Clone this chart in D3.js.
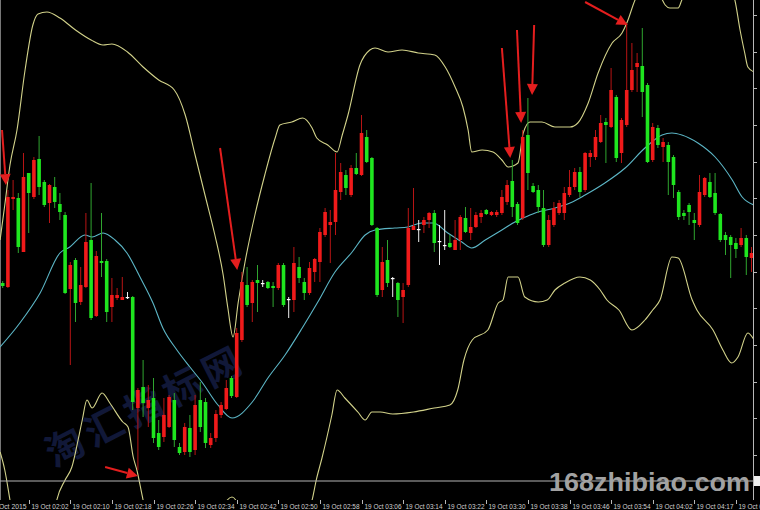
<!DOCTYPE html>
<html><head><meta charset="utf-8">
<script src="https://cdn.jsdelivr.net/npm/d3@7/dist/d3.min.js"></script>
<style>html,body{margin:0;padding:0;background:#000;overflow:hidden}</style>
</head><body><svg id="c" width="760" height="510"></svg>
<script>
// ---- data (price in points) ----
const opens  = [217,213,301,302,248,327,303,341,318,297,313,296,285,211,240,198,213,260,184,239,239,193,202,200,203,203,92,113,92,102,67,63,73,100,53,48,72,50,100,98,55,62,85,91,122,103,160,215,197,220,217,218,214,212,235,201,200,233,218,207,228,238,265,275,278,308,325,305,332,325,363,342,272,210,240,222,217,203,215,270,271,275,280,287,259,255,257,250,260,282,267,273,283,290,285,285,287,298,319,296,282,365,314,310,292,255,275,287,287,305,313,328,310,343,343,358,378,373,403,347,375,410,433,434,415,340,372,353,355,343,308,287,295,280,275,305,318,307,286,265,263,257,255,262,242];
const highs  = [219,310,320,307,347,327,343,364,320,316,323,307,288,238,242,233,287,317,249,287,241,222,212,223,208,204,112,140,115,122,80,102,105,107,57,77,85,105,118,102,67,90,98,120,124,172,228,233,220,235,220,219,218,237,237,203,253,243,222,238,242,272,292,290,347,337,330,335,347,385,370,343,273,253,260,223,218,217,292,312,280,283,288,290,275,290,265,280,285,293,292,288,290,291,289,290,310,320,340,298,370,402,317,315,310,285,298,300,313,330,332,333,348,350,370,385,382,432,405,382,477,457,447,472,417,377,375,362,358,345,310,290,297,287,325,323,327,327,287,268,265,262,272,265,253];
const lows   = [212,212,290,247,248,267,301,305,293,277,292,280,206,135,178,195,212,180,183,223,178,178,200,200,201,90,30,83,73,57,50,58,72,53,45,45,43,45,68,52,52,58,82,90,102,102,158,193,178,188,213,211,193,210,193,182,188,217,200,205,218,218,263,237,265,300,305,303,325,324,337,274,203,203,213,203,183,177,213,270,258,267,272,248,235,250,252,250,250,267,260,272,277,285,284,283,285,295,283,275,280,310,307,287,253,253,273,285,280,303,310,303,308,333,340,357,337,372,338,337,373,408,408,383,337,338,352,338,305,302,280,280,275,260,273,303,302,285,258,245,222,242,253,225,228];
const closes = [214,303,303,253,323,307,340,313,295,315,298,288,207,235,197,215,258,182,244,237,188,205,205,203,203,98,110,97,100,62,53,85,103,60,47,73,48,95,73,57,62,86,95,112,104,167,218,195,218,217,217,212,212,235,195,201,237,222,207,232,241,268,288,278,310,328,312,332,326,367,338,275,205,238,217,222,200,210,272,274,271,280,287,257,259,255,253,260,283,268,273,285,287,286,288,288,303,315,293,277,363,327,308,293,255,280,292,297,307,313,328,308,347,347,363,377,375,410,342,380,410,430,437,408,338,373,355,358,338,315,283,284,288,277,308,322,303,287,260,260,255,251,262,243,247];

// Bollinger bands: [bar index, price]
const middleIdx = [-0.5,3.3,7.2,11.0,12.9,15.8,17.2,19.3,21.6,23.9,26.4,28.9,30.8,33.5,36.0,38.3,41.4,44.1,48.0,51.0,54.3,57.6,60.6,63.9,67.2,69.7,71.6,75.4,77.9,80.6,82.8,85.6,88.3,90.2,92.8,96.0,98.5,100.1,102.4,106.2,109.1,112.0,115.8,119.7,123.5,126.8,128.7,130.6,133.7,137.0,140.3,142.2,144.5];
const middleVal = [153,177,207,247,253,265,263,267,260,247,223,197,172,150,133,118,95,82,98,122,145,172,198,228,248,265,270,272,273,277,277,267,258,252,260,270,278,282,287,292,297,305,317,332,352,365,367,365,357,343,320,303,295];
const upperIdx = [-0.5,0.4,1.4,2.75,4.3,5.8,6.8,8.5,11,14,17,19.3,21,24,27,30,33,35.1,37.0,38.9,40.8,42.4,43.3,44.3,45.3,46.6,48.5,50.4,52.4,53.3,55.6,57.7,59.5,60.4,62.5,64.3,65.3,66.4,68.7,70.6,71.6,74.1,76.8,79.9,83.1,85.1,87.0,88.5,89.5,90.2,92.2,94.3,96.0,97.2,99.1,100.1,101.4,103.7,106.2,109.1,110.6,112.6,114.5,117.2,119.1,120.1,121.6,124.5,126.4,127.4,128.3,129.9,130.6,134.1,138.9,140.8,141.8,142.7,143.3,144.5];
const upperVal = [260,295,335,370,430,475,486,488,482,470,460,455,456,448,433,420,410,385,345,305,265,225,192,163,198,238,285,325,362,375,378,382,372,362,355,348,365,385,435,450,452,448,450,447,445,433,413,393,370,348,350,348,340,333,337,367,378,378,373,373,377,397,427,457,467,478,500,520,505,495,492,492,500,540,520,500,470,447,433,428];
const lowerIdx = [-0.5,0.4,1.4,2.4,5.3,9.1,10.4,12.0,13.3,14.5,15.3,16.2,17.2,19.1,20.6,23.1,24.1,25.1,25.8,27.0,32.2,38.0,44.1,49.5,55.3,59.5,60.3,61.4,63.3,64.3,65.8,68.3,69.7,71.0,72.6,75,79,83,86,87.5,88.7,90.3,93.3,95.3,96.2,97.2,99.1,100.4,103.0,104.7,106.2,108.1,111.0,113.0,114.9,116.2,118.5,121,123.5,125,126.4,128.7,129.9,132.6,133.5,136.6,138.5,140.2,141.4,143.3,144.5];
const lowerVal = [48,30,0,-30,-60,-40,0,20,33,60,80,100,92,107,97,78,73,43,30,0,-80,-60,3,-60,-40,0,20,42,85,110,102,88,80,88,88,86,88,92,95,110,140,160,170,197,200,223,223,203,198,200,210,217,223,220,210,200,190,170,180,190,200,243,242,200,190,170,150,137,143,167,160];

const priceTicks = [485,448,412,375,338,302,265,228,192,155,118,82,45];
const timeLabels = ["19 Oct 2015","19 Oct 02:02","19 Oct 02:10","19 Oct 02:18","19 Oct 02:26","19 Oct 02:34","19 Oct 02:42","19 Oct 02:50","19 Oct 02:58","19 Oct 03:06","19 Oct 03:14","19 Oct 03:22","19 Oct 03:30","19 Oct 03:38","19 Oct 03:46","19 Oct 03:54","19 Oct 04:02","19 Oct 04:17","19 Oct 04:25"];
const labelFirstBar = -3, labelStep = 8;
const currentPrice = 19;
// annotation arrows in data space: [fromBar, fromPrice, toBar, toPrice]
const arrows = [[-0.13,370,0.63,315],[41.8,352,45.1,230],[19.7,33,26.0,24],[96.0,452,97.6,342],[98.9,470,99.7,377],[102.2,475,101.8,405],[112.0,498,120.2,475]];

// ---- drawing ----
const W=760,H=510, plotR=753, plotB=500;
const svg=d3.select('#c');
svg.append('rect').attr('width',W).attr('height',H).attr('fill','#000');
const x=d3.scaleLinear().domain([0,144]).range([2.7,751.5]);
const y=d3.scaleLinear().domain([0,500]).range([500,0]);
svg.append('defs').append('clipPath').attr('id','clip').append('rect').attr('x',0).attr('y',0).attr('width',plotR).attr('height',plotB);
const g=svg.append('g').attr('clip-path','url(#clip)');

// watermark
g.append('text').attr('transform','translate(152,418) rotate(-27)')
 .attr('text-anchor','middle').attr('font-family','Noto Sans CJK SC').attr('font-weight','bold')
 .attr('font-size',38).attr('fill','#223070').attr('fill-opacity',0.5).attr('letter-spacing',6).text('淘汇指标网');

// left separator
g.append('line').attr('x1',0.5).attr('x2',0.5).attr('y1',0).attr('y2',plotB).attr('stroke','#777').attr('stroke-width',1);

function band(idx,val,color){
  const pts=idx.map((d,i)=>[d,val[i]]);
  g.append('path').datum(pts).attr('fill','none').attr('stroke',color).attr('stroke-width',1.1)
   .attr('d',d3.line().x(d=>x(d[0])).y(d=>y(d[1])).curve(d3.curveMonotoneX));
}
band(upperIdx,upperVal,'#d2d28a');
band(lowerIdx,lowerVal,'#d2d28a');
band(middleIdx,middleVal,'#5cb6c6');

const bars=opens.map((o,i)=>({i,o,h:highs[i],l:lows[i],c:closes[i]}));
const col=d=>d.c>d.o?'#f01a1a':(d.c<d.o?'#1fe61f':'#ffffff');
const wcol=d=>d.c>d.o?'#b81414':(d.c<d.o?'#2fa52f':'#eeeeee');
const bw=3.6;
g.selectAll('.w').data(bars).join('line').attr('x1',d=>x(d.i)).attr('x2',d=>x(d.i))
 .attr('y1',d=>y(d.h)).attr('y2',d=>y(d.l)).attr('stroke',wcol).attr('stroke-width',1);
g.selectAll('.b').data(bars).join('rect').attr('x',d=>x(d.i)-bw/2).attr('width',bw)
 .attr('y',d=>y(Math.max(d.o,d.c))).attr('height',d=>Math.max(1.2,Math.abs(y(d.o)-y(d.c))))
 .attr('fill',col);

// arrows
arrows.forEach(a=>{
  const x1=x(a[0]),y1=y(a[1]),x2=x(a[2]),y2=y(a[3]);
  const ang=Math.atan2(y2-y1,x2-x1), L=11, Wd=5.5;
  const bx=x2-L*Math.cos(ang), by=y2-L*Math.sin(ang);
  svg.append('line').attr('x1',x1).attr('y1',y1).attr('x2',bx).attr('y2',by).attr('stroke','#e41e1e').attr('stroke-width',2);
  const p=[[x2,y2],[bx+Wd*Math.sin(ang),by-Wd*Math.cos(ang)],[bx-Wd*Math.sin(ang),by+Wd*Math.cos(ang)]];
  svg.append('polygon').attr('points',p.map(q=>q.join(',')).join(' ')).attr('fill','#e41e1e');
});

// current price line
svg.append('line').attr('x1',0).attr('x2',plotR).attr('y1',y(currentPrice)).attr('y2',y(currentPrice)).attr('stroke','#b4b4b4').attr('stroke-width',1);
svg.append('rect').attr('x',plotR+1).attr('y',y(currentPrice)-5).attr('width',8).attr('height',10).attr('fill','#f0f0f0');

// site watermark
svg.append('text').attr('x',549).attr('y',491).attr('font-family','Liberation Sans, Arial').attr('font-weight','bold')
 .attr('font-size',26).attr('textLength',201).attr('lengthAdjust','spacingAndGlyphs').attr('fill','#a2a2a2').text('168zhibiao.com');

// right axis
svg.append('line').attr('x1',plotR+0.5).attr('x2',plotR+0.5).attr('y1',0).attr('y2',plotB).attr('stroke','#b8b8b8');
svg.selectAll('.pt').data(priceTicks).join('line').attr('x1',plotR).attr('x2',plotR+4)
 .attr('y1',d=>Math.round(y(d))+0.5).attr('y2',d=>Math.round(y(d))+0.5).attr('stroke','#b8b8b8');

// bottom axis
const ax=svg.append('g');
timeLabels.forEach((t,k)=>{
  const xx=Math.round(x(labelFirstBar+k*labelStep))+0.5;
  ax.append('line').attr('x1',xx).attr('x2',xx).attr('y1',plotB).attr('y2',plotB+4).attr('stroke','#b8b8b8');
  ax.append('text').attr('x',xx+2).attr('y',509).attr('font-family','Liberation Sans, Arial').attr('font-size',7.5)
   .attr('textLength',37).attr('lengthAdjust','spacingAndGlyphs').attr('fill','#d0d0d0').text(t);
});
</script></body></html>
